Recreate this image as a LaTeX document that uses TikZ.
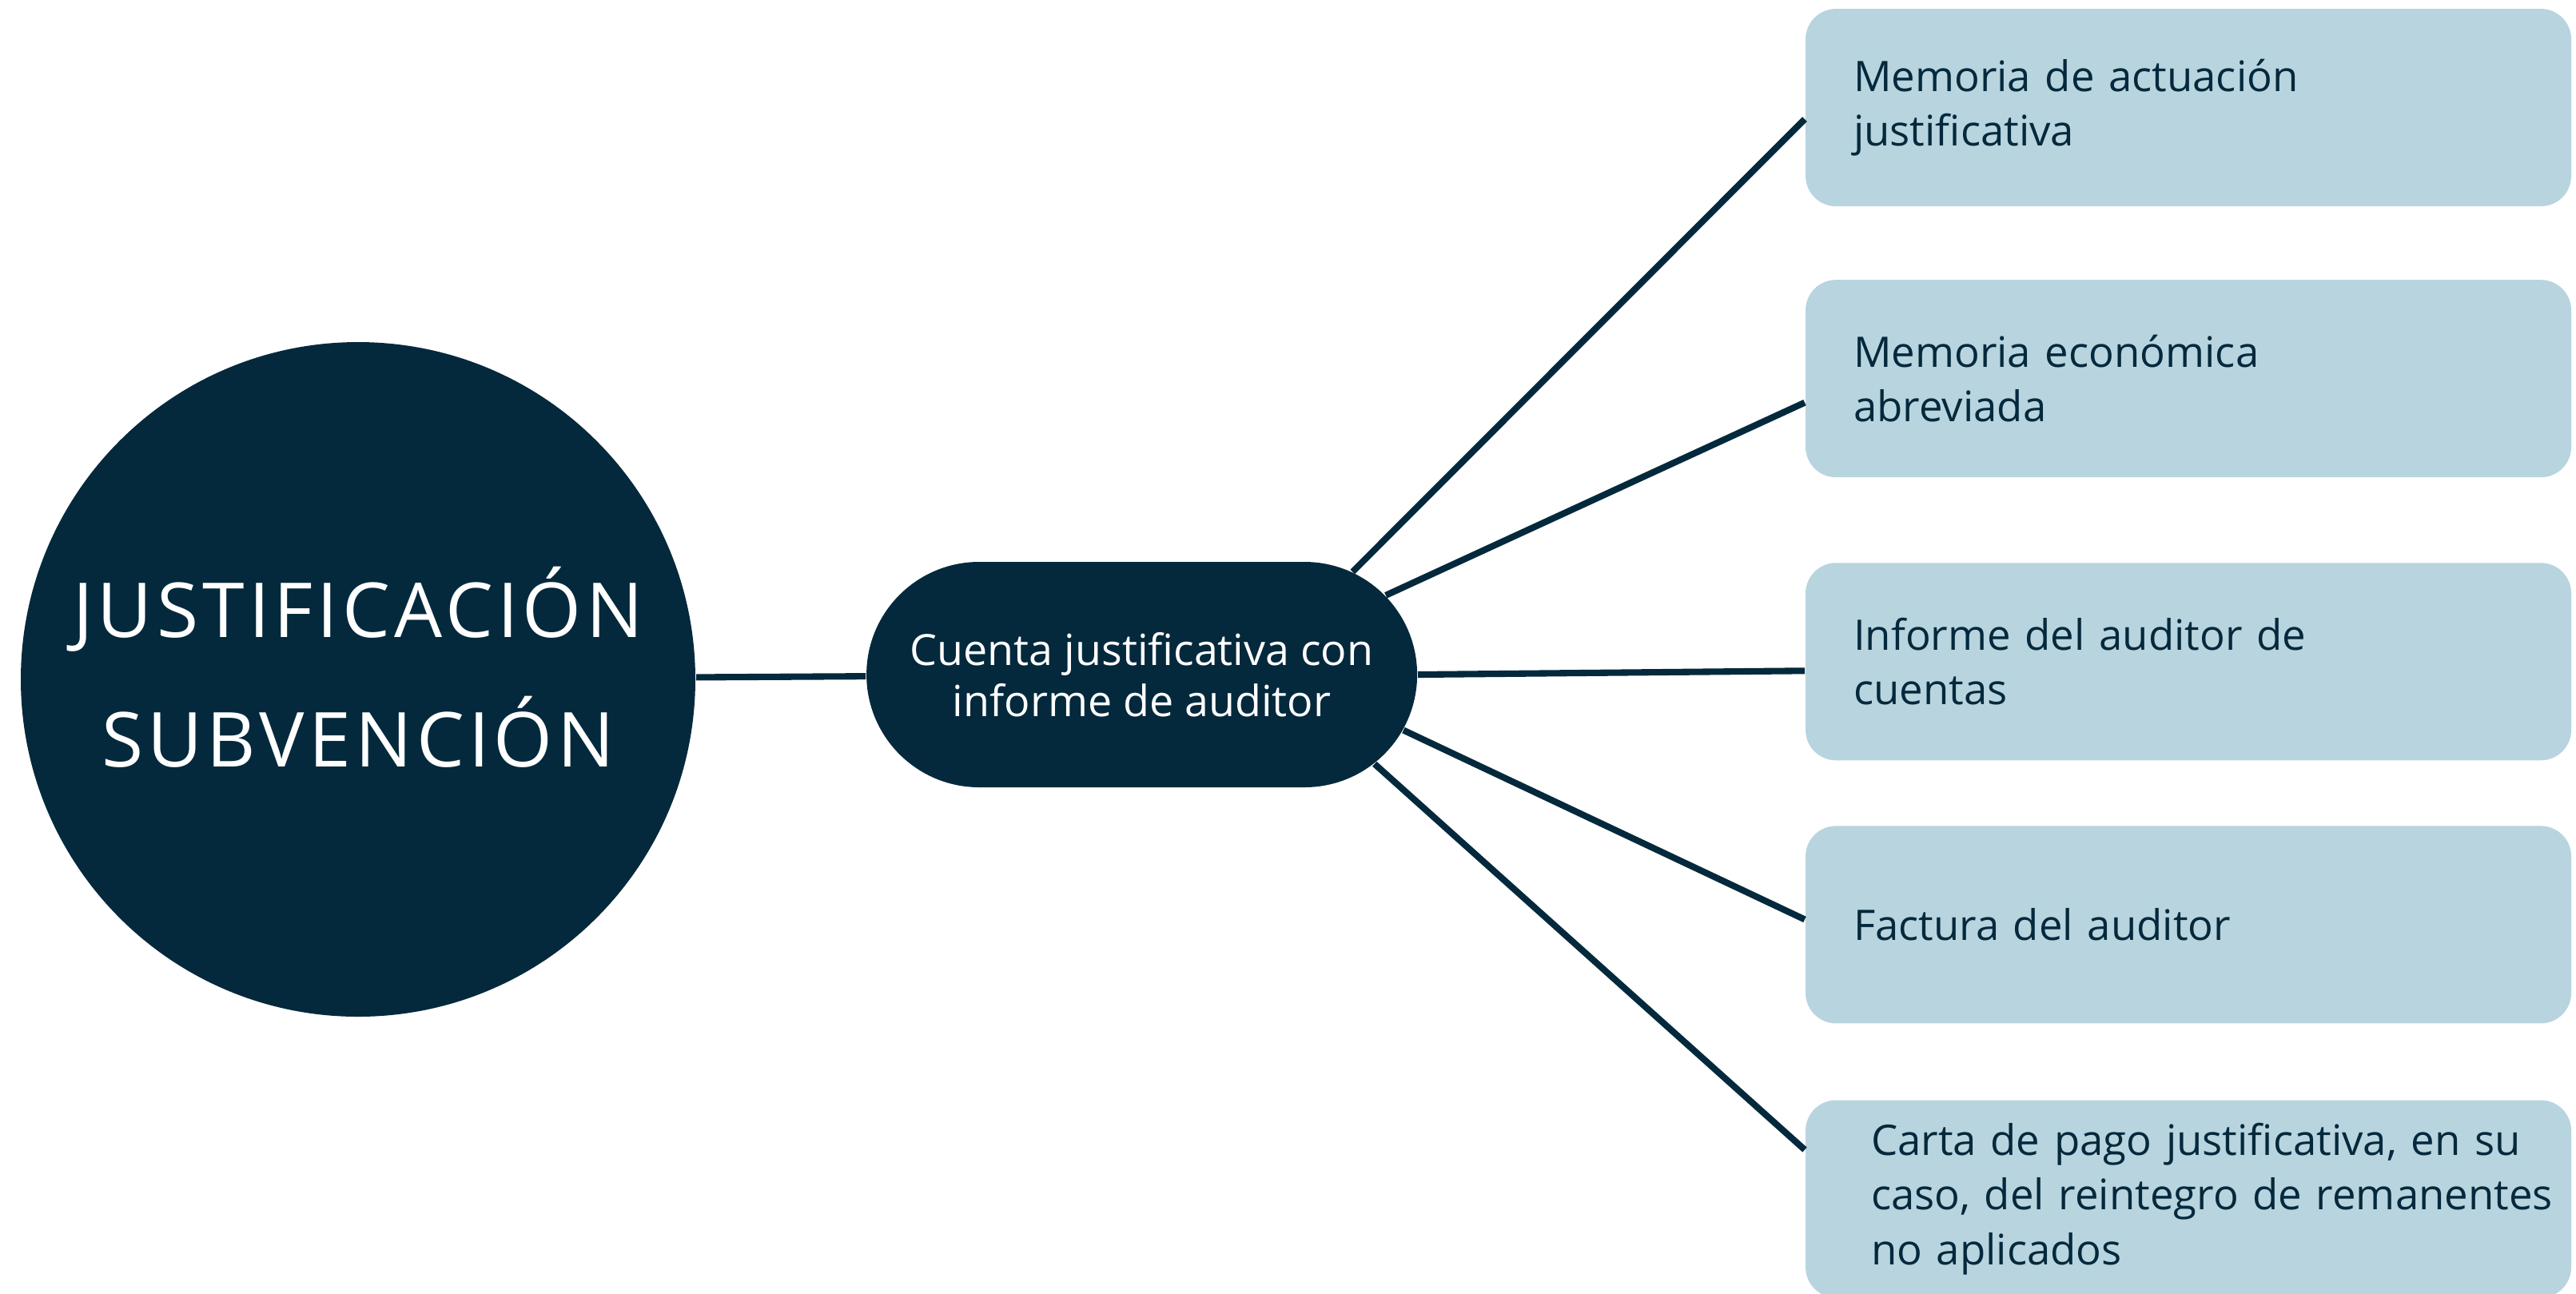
\documentclass[tikz,border=0pt]{standalone}
\usepackage{fontspec}
\setmainfont{Open Sans}
\usetikzlibrary{positioning,shapes.misc}
\definecolor{navy}{HTML}{04293C}
\definecolor{paleblue}{HTML}{B8D4DF}

\begin{document}
\begin{tikzpicture}[-, semithick, node distance=0.95cm]
\tikzstyle{hub}=[circle,fill=navy,text=white,minimum size=8.44cm,inner sep=0pt,align=center,font=\fontsize{27}{46}\selectfont\addfontfeatures{LetterSpace=5.5}]
\tikzstyle{branch}=[rounded rectangle,fill=navy,text=white,minimum width=6.89cm,minimum height=2.82cm,inner sep=0pt,align=center,font=\fontsize{15.3}{18.2}\selectfont]
\tikzstyle{leaf}=[rectangle,rounded corners=0.38cm,fill=paleblue,text=navy,text width=8.38cm,inner xsep=0.6cm,minimum height=2.47cm,align=left,font=\fontsize{15}{19.4}\selectfont]
\tikzstyle{link}=[draw=navy,line width=2.3pt]
\useasboundingbox (0,0) rectangle (32.23,-16.18);
\node[hub]    (circ) at (4.48,-8.50)             {JUSTIFICACIÓN\\SUBVENCIÓN\rule[-0.32cm]{0pt}{0.32cm}};
\node[branch] (cuenta)[right=2.12cm of circ, yshift=0.06cm] {Cuenta justificativa con\\informe de auditor};
\node[leaf]   (memact) at (22.58,-0.10)[anchor=north west] {Memoria de actuación\\justificativa};
\node[leaf]   (memeco)[below=0.90cm of memact]   {Memoria económica\\abreviada};
\node[leaf]   (informe)[below=1.05cm of memeco]  {Informe del auditor de\\cuentas};
\node[leaf]   (factura)[below=0.80cm of informe] {Factura del auditor};
\node[leaf, inner xsep=0.82cm, text width=7.94cm] (carta)[below=0.94cm of factura]
  {\mbox{Carta de pago justificativa, en su}\\\mbox{caso, del reintegro de remanentes}\\no aplicados};
\path
(circ)        edge[link]    (cuenta)
(cuenta.26)   edge[link]    ([yshift=-0.145cm]memact.west)
(cuenta.18)   edge[link]    ([yshift=-0.30cm]memeco.west)
(cuenta.east) edge[link]    ([yshift=-0.115cm]informe.west)
(cuenta.-12)  edge[link]    ([yshift=0.065cm]factura.west)
(cuenta.-21)  edge[link]    ([yshift=0.615cm]carta.west);
\end{tikzpicture}
\end{document}
